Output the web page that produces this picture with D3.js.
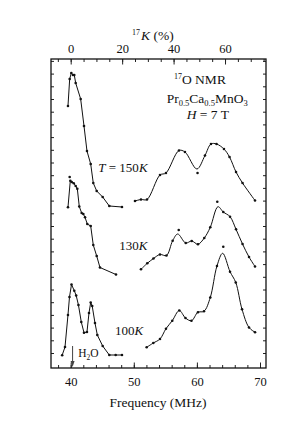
<!DOCTYPE html>
<html>
<head>
<meta charset="utf-8">
<script src="https://cdn.jsdelivr.net/npm/d3@7"></script>
<style>
  body { margin: 0; background: #fff; }
  svg text { font-family: "Liberation Serif", "Times New Roman", serif; fill: #111; }
</style>
</head>
<body>
<svg></svg>
<script>
// [frequency MHz, intensity (arb. units, spectra already offset), flag]
// flag: none = dot on the line, 1 = line knot only, 2 = dot only (off the fit)
const low150 = [[39.57,262],[39.84,289],[40.10,295],[40.36,293],[40.57,293],[40.79,285],[41.58,269],
  [42.11,242],[42.58,217],[43.17,204],[43.58,185],[44.12,177],[45.07,171],[46.12,162],[48.13,161]];
const high150 = [[50.19,167],[51.14,168.5],[52.09,168.5],[54.15,193],[55.10,195],[57.16,217.5],[58.11,216],
  [60.0,199,1],[60.10,195,2],[61.28,212.5],[62.23,224],[63.11,224],[64.29,219],[65.17,211],[66.20,196],
  [67.23,185],[69.21,167.5]];

const low130 = [[39.57,160.7],[39.84,191,2],[39.94,187.3],[40.16,186],[40.48,184.7],[40.79,182],[41.05,179.3],
  [41.36,161.5],[41.74,155],[42.0,154],[42.27,150.7],[42.63,144],[43.17,142],[43.58,123],[44.12,112],
  [44.64,100.5],[47.18,93.5]];
const high130 = [[51.14,98.7],[52.14,104.7],[53.12,109.5],[54.15,113.5],[55.18,112.5],[56.16,127.3],
  [56.96,134,1],[57.12,138,2],[58.23,125],[59.18,127],[60.17,123.8],[61.17,130],[62.12,140.7],
  [63.23,166.2,2],[63.34,161.3,1],[64.18,156],[65.25,151.3],[66.2,138.7],[67.23,124],[68.26,111],[69.21,101.5]];

const low100 = [[38.65,12.8],[39.10,21],[39.57,53],[39.81,71],[40.13,83.5],[40.57,77.3],[40.87,72.5],
  [41.23,63],[41.68,46],[42.11,35.3],[42.58,36],[42.90,55],[43.17,65.5],[43.41,62],[43.85,45],[44.22,33],
  [45.07,22],[46.12,13],[47.13,13],[48.13,13]];
const high100 = [[52.04,20.7],[53.09,25],[54.15,29],[55.10,39.3],[56.10,47.3],[57.21,57.5],[58.19,50],
  [59.14,47.3],[60.17,55.8],[61.12,56.7],[62.12,70.5],[63.18,102],[64.08,114.7,1],[64.18,121.3,2],
  [65.25,96.3],[66.16,85.5],[67.15,58.7],[68.26,40.5],[69.21,35.8]];

const freqTicks = [40, 50, 60, 70];
const kTicks = [0, 20, 40, 60];
const h2oFreq = 40.3;

const width = 215;
const height = 309;
const margin = {left: 51, top: 59};

const svg = d3.select('svg').attr('width', 307).attr('height', 442);
const g = svg.append('g').attr('transform', 'translate(' + margin.left + ',' + margin.top + ')');

const x = d3.scaleLinear().domain([36.88, 70.95]).range([0, width]);
const k = d3.scaleLinear().domain([-7.66, 75.93]).range([0, width]);
const y = d3.scaleLinear().domain([0, 309]).range([height, 0]);

// minor ticks first, then major ticks with labels
g.append('g').attr('transform', 'translate(0,' + height + ')')
  .call(d3.axisBottom(x).tickValues(d3.range(38, 71, 2)).tickSize(-3).tickFormat(''));
g.append('g').attr('transform', 'translate(0,' + height + ')')
  .call(d3.axisBottom(x).tickValues(freqTicks).tickSize(-5.5).tickPadding(9).tickFormat(d3.format('d')));

g.append('g')
  .call(d3.axisTop(k).tickValues(d3.range(-5, 76, 5)).tickSize(-3).tickFormat(''));
g.append('g')
  .call(d3.axisTop(k).tickValues(kTicks).tickSize(-5.5).tickPadding(6.5).tickFormat(d3.format('d')));

const yMinor = d3.range(15, 309, 12.7);
g.append('g').call(d3.axisLeft(y).tickValues(yMinor).tickSize(-3).tickFormat(''));
g.append('g').attr('transform', 'translate(' + width + ',0)')
  .call(d3.axisRight(y).tickValues(yMinor).tickSize(-3).tickFormat(''));

g.selectAll('.domain').remove();
g.selectAll('.tick line').attr('stroke', '#222').attr('stroke-width', 1);
g.selectAll('.tick text').style('font-size', '12.5px').attr('fill', '#111');

g.append('rect')
  .attr('width', width).attr('height', height)
  .attr('fill', 'none').attr('stroke', '#111').attr('stroke-width', 1.3);

// spectra
const lineLow = d3.line().x(d => x(d[0])).y(d => y(d[1]));
const lineHigh = d3.line().x(d => x(d[0])).y(d => y(d[1])).curve(d3.curveCatmullRom.alpha(0.5));

const segments = [
  {pts: low150, gen: lineLow}, {pts: high150, gen: lineHigh},
  {pts: low130, gen: lineLow}, {pts: high130, gen: lineHigh},
  {pts: low100, gen: lineLow}, {pts: high100, gen: lineHigh}
];

segments.forEach(s => {
  g.append('path')
    .datum(s.pts.filter(d => d[2] !== 2))
    .attr('d', s.gen)
    .attr('fill', 'none')
    .attr('stroke', '#111')
    .attr('stroke-width', 1);
  g.selectAll(null)
    .data(s.pts.filter(d => d[2] !== 1))
    .enter()
    .append('circle')
    .attr('cx', d => x(d[0]))
    .attr('cy', d => y(d[1]))
    .attr('r', 1.3)
    .attr('fill', '#111');
});

// H2O reference arrow
const ax = x(h2oFreq);
g.append('line')
  .attr('x1', ax).attr('x2', ax).attr('y1', 287).attr('y2', 303)
  .attr('stroke', '#444').attr('stroke-width', 1);
g.append('path')
  .attr('d', 'M' + (ax - 2) + ',302 L' + (ax + 2) + ',302 L' + ax + ',308 Z')
  .attr('fill', '#444');

// labels
const t = svg.append('g');

const kTitle = t.append('text').attr('x', 132).attr('y', 40).style('font-size', '13.5px');
kTitle.append('tspan').text('17').style('font-size', '8px').attr('dy', -5);
kTitle.append('tspan').text('K').style('font-style', 'italic').attr('dy', 5).attr('dx', 1);
kTitle.append('tspan').text(' (%)');

const nmr = t.append('text').attr('x', 174).attr('y', 84).style('font-size', '13.5px');
nmr.append('tspan').text('17').style('font-size', '8px').attr('dy', -5);
nmr.append('tspan').text('O NMR').attr('dy', 5);

const comp = t.append('text').attr('x', 166.7).attr('y', 102.7).style('font-size', '13.5px');
[['Pr', 0], ['0.5', 1], ['Ca', 0], ['0.5', 1], ['MnO', 0], ['3', 1]].forEach((p, i, arr) => {
  const prevSub = i > 0 && arr[i - 1][1];
  const dy = p[1] ? 3 : (prevSub ? -3 : 0);
  comp.append('tspan').text(p[0]).attr('dy', dy).style('font-size', p[1] ? '8.5px' : '13.5px');
});

const field = t.append('text').attr('x', 186.7).attr('y', 118.7).style('font-size', '13.5px');
field.append('tspan').text('H').style('font-style', 'italic');
field.append('tspan').text(' = 7 T');

const t150 = t.append('text').attr('x', 98.3).attr('y', 172.3).style('font-size', '13px');
t150.append('tspan').text('T').style('font-style', 'italic');
t150.append('tspan').text(' = 150');
t150.append('tspan').text('K').style('font-style', 'italic');

const t130 = t.append('text').attr('x', 119.3).attr('y', 250).style('font-size', '13px');
t130.append('tspan').text('130');
t130.append('tspan').text('K').style('font-style', 'italic');

const t100 = t.append('text').attr('x', 115).attr('y', 335).style('font-size', '13px');
t100.append('tspan').text('100');
t100.append('tspan').text('K').style('font-style', 'italic');

const water = t.append('text').attr('x', 78.3).attr('y', 357).style('font-size', '11.5px');
water.append('tspan').text('H');
water.append('tspan').text('2').style('font-size', '7.5px').attr('dy', 2.5);
water.append('tspan').text('O').attr('dy', -2.5);

t.append('text')
  .attr('x', 158).attr('y', 407)
  .attr('text-anchor', 'middle')
  .style('font-size', '13.5px')
  .text('Frequency (MHz)');
</script>
</body>
</html>
